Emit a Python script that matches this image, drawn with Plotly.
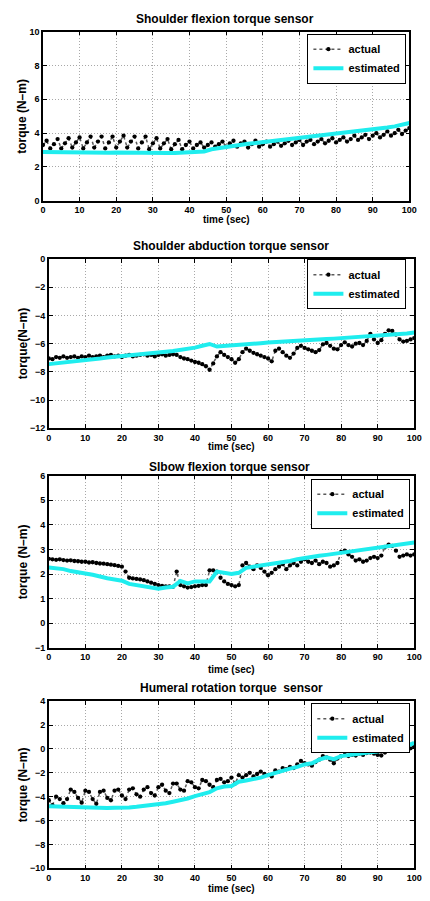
import plotly.graph_objects as go

# ---------------- data ----------------
time_s = list(range(0, 101))          # actual sensor samples (1 s)
est_time_s = list(range(0, 101, 2))   # estimated samples (2 s)

titles = ["Shoulder flexion torque sensor",
          "Shoulder abduction torque sensor",
          "Slbow flexion torque sensor",
          "Humeral rotation torque  sensor"]
ylabels = ["torque (N\u2013m)", "torque(N\u2013m)", "torque (N\u2013m)", "torque (N\u2013m)"]
xlabel = "time (sec)"
legend_names = ["actual", "estimated"]
y_ranges = [[0, 10], [-12, 0], [-1, 6], [-10, 4]]
y_dticks = [2, 2, 1, 2]
x_ticks = [0, 10, 20, 30, 40, 50, 60, 70, 80, 90, 100]

sh_flex_actual = [3.3, 3.55, 3.1, 3.35, 3.65, 3.1, 3.4, 3.7, 3.15, 3.45,
                  3.75, 3.1, 3.45, 3.8, 3.15, 3.5, 3.8, 3.1, 3.45, 3.8,
                  3.15, 3.5, 3.85, 3.15, 3.5, 3.8, 3.1, 3.45, 3.8, 3.05,
                  3.4, 3.7, 3.1, 3.4, 3.65, 3.05, 3.35, 3.6, 3.05, 3.3,
                  3.5, 3.1, 3.3, 3.45, 3.15, 3.3, 3.45, 3.2, 3.35, 3.5,
                  3.2, 3.4, 3.55, 3.2, 3.4, 3.5, 3.15, 3.35, 3.55, 3.2,
                  3.35, 3.5, 3.2, 3.35, 3.5, 3.25, 3.4, 3.55, 3.3, 3.45,
                  3.6, 3.3, 3.5, 3.6, 3.35, 3.5, 3.65, 3.4, 3.55, 3.7,
                  3.45, 3.6, 3.75, 3.5, 3.65, 3.85, 3.6, 3.75, 3.9, 3.65,
                  3.85, 4.0, 3.75, 3.9, 4.1, 3.85, 4.0, 4.2, 3.95, 4.15,
                  4.3]
sh_flex_est = [2.88, 2.87, 2.87, 2.86, 2.86, 2.87, 2.86, 2.85, 2.85, 2.84,
               2.85, 2.84, 2.83, 2.82, 2.81, 2.79, 2.80, 2.82, 2.83, 2.84,
               2.85, 2.86, 2.92, 3.05, 3.12, 3.2, 3.28, 3.34, 3.38, 3.42,
               3.47, 3.5, 3.54, 3.6, 3.64, 3.68, 3.72, 3.78, 3.83, 3.88,
               3.93, 3.97, 4.02, 4.08, 4.14, 4.2, 4.26, 4.33, 4.4, 4.48,
               4.6]

sh_abd_actual = [-7.05, -7.1, -6.95, -7.0, -6.9, -7.0, -6.95, -6.9, -7.0, -6.9,
                 -6.95, -6.85, -6.95, -6.9, -6.85, -6.95, -6.85, -6.8, -6.9, -6.85,
                 -6.95, -6.85, -6.8, -6.9, -6.85, -6.8, -6.75, -6.85, -6.8, -6.9,
                 -6.8, -6.75, -6.85, -6.8, -6.75, -6.8, -6.95, -7.05, -7.1, -7.2,
                 -7.3, -7.35, -7.45, -7.6, -7.85, -7.4, -6.9, -6.6, -6.8, -6.95,
                 -7.1, -7.35, -7.1, -6.6, -6.35, -6.5, -6.65, -6.75, -6.85, -6.95,
                 -7.05, -7.25, -6.5, -6.35, -6.6, -6.85, -7.0, -6.7, -6.3, -6.15,
                 -6.3, -6.4, -6.5, -6.6, -6.45, -6.05, -5.95, -6.15, -6.35, -6.4,
                 -6.1, -5.9, -6.1, -6.2, -6.0, -5.95, -6.1, -5.8, -5.3, -5.7,
                 -5.95, -5.75, -5.3, -5.05, -5.1, -5.35, -5.7, -5.85, -5.8, -5.7,
                 -5.6]
sh_abd_est = [-7.45, -7.4, -7.35, -7.3, -7.22, -7.15, -7.1, -7.05, -6.98, -6.92,
              -6.87, -6.82, -6.77, -6.72, -6.67, -6.62, -6.57, -6.52, -6.45, -6.38,
              -6.28, -6.15, -6.02, -6.2, -6.15, -6.1, -6.07, -6.04, -6.0, -5.96,
              -5.92, -5.88, -5.85, -5.82, -5.79, -5.76, -5.73, -5.7, -5.67, -5.64,
              -5.61, -5.58, -5.55, -5.52, -5.49, -5.46, -5.42, -5.38, -5.33, -5.28,
              -5.2]

elb_flex_actual = [2.62, 2.6, 2.58, 2.6, 2.57, 2.55, 2.56, 2.53, 2.52, 2.5,
                   2.5, 2.47, 2.48, 2.45, 2.43, 2.42, 2.4, 2.38, 2.36, 2.33,
                   2.3, 2.1, 1.85, 1.82, 1.8, 1.78, 1.75, 1.7, 1.65, 1.6,
                   1.55, 1.52, 1.5, 1.5, 1.48, 2.1, 1.55, 1.5, 1.45, 1.47,
                   1.5, 1.52, 1.55, 1.55, 2.15, 2.15, 2.1, 1.85, 1.7, 1.6,
                   1.55, 1.5, 1.55, 2.35, 2.45, 2.3, 2.2, 2.35, 2.25, 2.1,
                   1.95, 2.05, 2.2, 2.3, 2.4, 2.2, 2.35, 2.45, 2.35, 2.5,
                   2.6, 2.5, 2.45, 2.55, 2.4, 2.5, 2.45, 2.3, 2.35, 2.45,
                   2.9, 2.95, 2.8, 2.7, 2.55, 2.6, 2.5, 2.55, 2.65, 2.7,
                   2.65, 2.75, 3.1, 3.2, 3.15, 2.95, 2.7, 2.75, 2.8, 2.75,
                   2.8]
elb_flex_est = [2.27, 2.25, 2.2, 2.12, 2.05, 2.02, 1.97, 1.88, 1.83, 1.78,
                1.73, 1.6, 1.55, 1.52, 1.47, 1.4, 1.45, 1.48, 1.72, 1.62,
                1.7, 1.68, 1.7, 2.1, 2.05, 2.0, 2.05, 2.25, 2.3, 2.34,
                2.38, 2.42, 2.48, 2.53, 2.6, 2.66, 2.7, 2.74, 2.78, 2.82,
                2.86, 2.9, 2.94, 2.98, 3.02, 3.06, 3.1, 3.14, 3.18, 3.22,
                3.28]

hum_rot_actual = [-4.3, -4.7, -4.0, -4.2, -4.55, -4.2, -3.4, -3.6, -4.1, -4.5,
                  -3.5, -3.6, -4.2, -4.6, -3.6, -3.5, -4.1, -4.3, -3.5, -3.4,
                  -3.9, -4.2, -3.4, -3.3, -3.8, -4.0, -3.4, -3.2, -3.7, -3.9,
                  -3.2, -3.0, -3.5, -3.7, -2.9, -2.9, -3.4, -3.5, -2.7, -2.8,
                  -3.2, -3.3, -2.6, -2.7, -3.0, -3.2, -2.6, -2.5, -2.8, -2.7,
                  -2.4, -2.9, -2.2, -2.4, -2.2, -2.0, -2.3, -2.1, -1.9, -2.1,
                  -2.2, -2.3, -1.8, -1.9, -1.6, -1.7, -1.5, -1.6, -1.3, -1.0,
                  -1.2, -1.3, -1.4, -1.1, -0.9, -0.6, -0.7, -0.9, -1.2, -0.8,
                  -0.6, -0.5, -0.6, -0.5, -0.55, -0.4, -0.5, -0.35, -0.3, -0.4,
                  -0.5, -0.55, -0.3, -0.1, 0.0, 0.05, -0.05, 0.0, 0.1, 0.05,
                  0.2]
hum_rot_est = [-4.8, -4.82, -4.85, -4.88, -4.9, -4.95, -4.97, -4.98, -4.95, -4.92,
               -4.95, -4.9, -4.85, -4.78, -4.72, -4.65, -4.55, -4.42, -4.3, -4.15,
               -3.95, -3.8, -3.62, -3.3, -3.15, -3.1, -2.75, -2.65, -2.55, -2.4,
               -2.2, -2.0, -1.85, -1.65, -1.5, -1.3, -1.2, -0.9, -0.7, -0.85,
               -0.6, -0.5, -0.42, -0.35, -0.28, -0.22, -0.1, 0.1, 0.18, 0.25,
               0.5]

actual_series = [sh_flex_actual, sh_abd_actual, elb_flex_actual, hum_rot_actual]
est_series = [sh_flex_est, sh_abd_est, elb_flex_est, hum_rot_est]

# ---------------- layout geometry (pixels in a 430 x 901 page) ----------------
W, H = 430, 901
plot_px = [  # left, right, top, bottom
    (41, 417, 27, 198),
    (47, 422, 257, 428),
    (47, 422, 476, 650),
    (47, 422, 704, 873),
]
title_px = [(228, 14), (234, 244), (232, 467), (235, 691)]
xlabel_px = [(229, 217), (234, 446), (234, 672), (234, 893)]
legend_px = [(414, 29), (414, 257), (418, 479), (418, 706)]

FONT = "Liberation Sans"
CYAN = "#1FEDEE"

fig = go.Figure()
annotations = []

for i in range(4):
    n = "" if i == 0 else str(i + 1)
    xa, ya = "x" + n, "y" + n
    lg = "legend" + n
    fig.add_trace(go.Scatter(
        x=time_s, y=actual_series[i], name="<b>" + legend_names[0] + "</b>",
        xaxis=xa, yaxis=ya, mode="lines+markers", legend=lg,
        line=dict(color="#5a5a5a", width=1.5, dash="dot"),
        marker=dict(color="black", size=4.3),
    ))
    fig.add_trace(go.Scatter(
        x=est_time_s, y=est_series[i], name="<b>" + legend_names[1] + "</b>",
        xaxis=xa, yaxis=ya, mode="lines", legend=lg,
        line=dict(color=CYAN, width=4),
    ))

    l, r, t, b = plot_px[i]
    dom_x = [l / W, r / W]
    dom_y = [1 - b / H, 1 - t / H]
    axis_common = dict(
        showline=True, linecolor="black", linewidth=1.5, mirror="ticks",
        ticks="inside", ticklen=4, tickcolor="black", tickwidth=1,
        showgrid=True, gridcolor="#a8a8a8", gridwidth=1, griddash="1px,2px",
        zeroline=False, ticklabeloverflow="allow",
        tickfont=dict(family=FONT, size=9, color="black", weight="bold"),
    )
    fig.update_layout(**{
        ("xaxis" + n): dict(domain=dom_x, range=[0, 100], tickvals=x_ticks,
                            anchor=ya, **axis_common),
        ("yaxis" + n): dict(domain=dom_y, range=y_ranges[i], dtick=y_dticks[i],
                            tick0=0, anchor=xa, **axis_common),
        lg: dict(x=legend_px[i][0] / W, y=1 - legend_px[i][1] / H,
                 xanchor="right", yanchor="top", bgcolor="white",
                 bordercolor="black", borderwidth=1, itemwidth=30,
                 tracegroupgap=0,
                 font=dict(family=FONT, size=11, color="black")),
    })

    annotations.append(dict(text="<b>" + titles[i] + "</b>", x=title_px[i][0] / W,
                            y=1 - title_px[i][1] / H, xref="paper", yref="paper",
                            showarrow=False, xanchor="center", yanchor="middle",
                            font=dict(family=FONT, size=12, color="black")))
    annotations.append(dict(text="<b>" + xlabel + "</b>", x=xlabel_px[i][0] / W,
                            y=1 - xlabel_px[i][1] / H, xref="paper", yref="paper",
                            showarrow=False, xanchor="center", yanchor="middle",
                            font=dict(family=FONT, size=10, color="black")))
    annotations.append(dict(text="<b>" + ylabels[i] + "</b>", x=20 / W,
                            y=1 - ((t + b) / 2) / H, xref="paper", yref="paper",
                            showarrow=False, xanchor="center", yanchor="middle",
                            textangle=-90,
                            font=dict(family=FONT, size=12, color="black")))

fig.update_layout(
    width=W, height=H, margin=dict(l=0, r=0, t=0, b=0),
    paper_bgcolor="white", plot_bgcolor="white",
    showlegend=True, annotations=annotations,
)

fig.write_html("out.html",
               config={"displayModeBar": False},
               post_script="document.body.style.margin='0px';"
                           "document.body.style.overflow='hidden';")
